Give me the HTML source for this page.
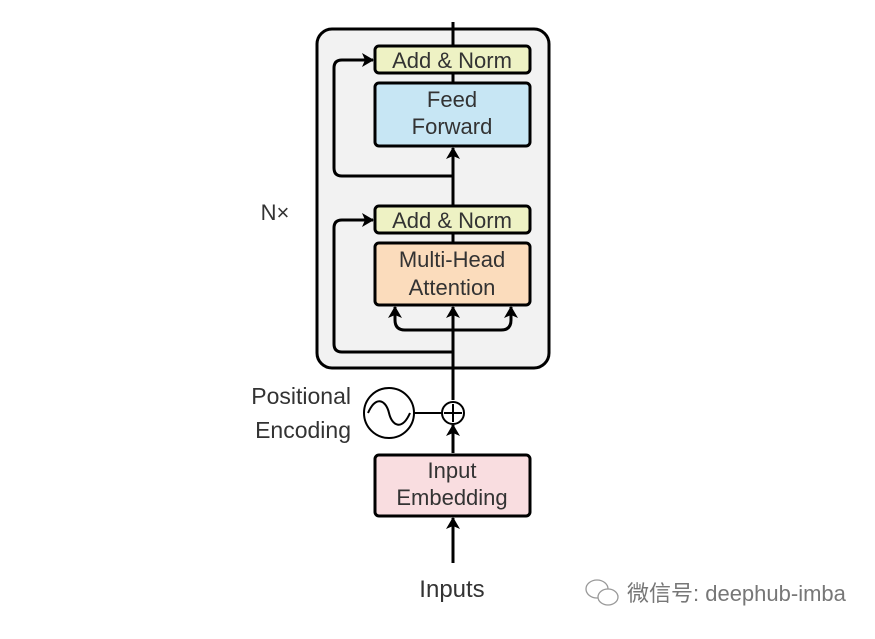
<!DOCTYPE html>
<html><head><style>body{margin:0;background:#fff}</style></head><body>
<svg width="875" height="634" xmlns="http://www.w3.org/2000/svg" font-family="Liberation Sans, sans-serif">
<defs>
<marker id="b" markerWidth="12" markerHeight="14" refX="11" refY="7" orient="auto" markerUnits="userSpaceOnUse"><path d="M0,0 L12,7 L0,14 L3,7Z" fill="#000"/></marker></defs>
<rect x="317" y="29" width="232" height="339" rx="15" fill="#f2f2f2" stroke="#000" stroke-width="3"/>
<g stroke="#000" stroke-width="3" fill="none">
<line x1="453" y1="22" x2="453" y2="46"/>
<line x1="453" y1="73" x2="453" y2="83"/>
<line x1="453" y1="233" x2="453" y2="243"/>
<line x1="453" y1="205" x2="453" y2="148" marker-end="url(#b)"/>
<line x1="453" y1="400" x2="453" y2="307" marker-end="url(#b)"/>
<path d="M453,176 H342 Q334,176 334,168 V68 Q334,60 342,60 H373" marker-end="url(#b)"/>
<path d="M453,352 H342 Q334,352 334,344 V228 Q334,220 342,220 H373" marker-end="url(#b)"/>
<path d="M453,330 H405 Q395,330 395,320 V307" marker-end="url(#b)"/>
<path d="M453,330 H501 Q511,330 511,320 V307" marker-end="url(#b)"/>
<line x1="453" y1="453" x2="453" y2="425" marker-end="url(#b)"/>
<line x1="453" y1="563" x2="453" y2="518" marker-end="url(#b)"/>
<line x1="414" y1="413" x2="442" y2="413" stroke-width="2"/>
</g>
<rect x="375" y="46" width="155" height="27" rx="4" fill="#eef2c4" stroke="#000" stroke-width="3"/>
<rect x="375" y="83" width="155" height="63" rx="4" fill="#c7e6f4" stroke="#000" stroke-width="3"/>
<rect x="375" y="206" width="155" height="27" rx="4" fill="#eef2c4" stroke="#000" stroke-width="3"/>
<rect x="375" y="243" width="155" height="62" rx="4" fill="#fbdcbc" stroke="#000" stroke-width="3"/>
<rect x="375" y="455" width="155" height="61" rx="4" fill="#f9dde0" stroke="#000" stroke-width="3"/>
<circle cx="453" cy="413" r="11" fill="#fff" stroke="#000" stroke-width="2"/>
<path d="M453,404 V422 M444,413 H462" stroke="#000" stroke-width="2"/>
<circle cx="389" cy="413" r="25" fill="#fff" stroke="#000" stroke-width="2"/>
<path d="M368,413 C376,395 386,400 389,413 C392,426 402,431 410,413" fill="none" stroke="#000" stroke-width="2"/>
<g font-size="22" fill="#333" text-anchor="middle">
<text x="452" y="68">Add &amp; Norm</text>
<text x="452" y="107">Feed</text><text x="452" y="134">Forward</text>
<text x="452" y="228">Add &amp; Norm</text>
<text x="452" y="267">Multi-Head</text><text x="452" y="295">Attention</text>
<text x="452" y="478">Input</text><text x="452" y="505">Embedding</text>
<text x="452" y="597" font-size="24">Inputs</text>
<text x="275" y="220" font-size="22">N×</text>
</g>
<g font-size="23" fill="#333" text-anchor="end">
<text x="351" y="404">Positional</text><text x="351" y="438">Encoding</text>
</g>
<g fill="none" stroke="#999" stroke-width="1.3"><ellipse cx="597" cy="589" rx="11" ry="9"/><ellipse cx="608" cy="597" rx="10" ry="8" fill="#fff"/></g>
<text x="627" y="601" font-size="22" fill="#777" font-family="Liberation Sans, Noto Sans CJK SC, sans-serif">微信号: deephub-imba</text>
</svg>
</body></html>
